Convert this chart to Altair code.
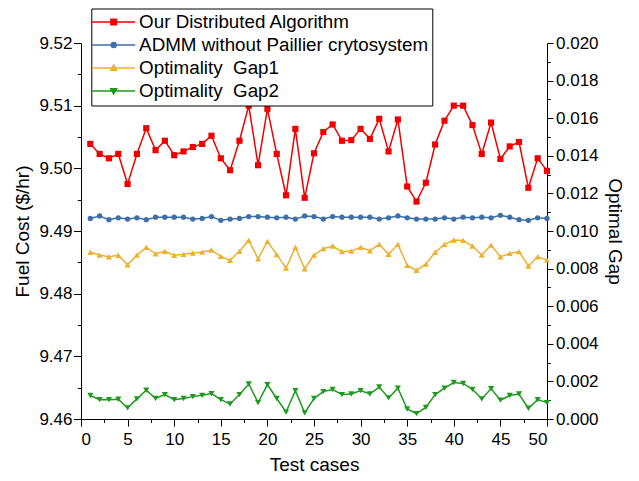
import altair as alt
import pandas as pd

cases = list(range(1, 51))

fuel_ours = [9.5039, 9.5023, 9.5016, 9.5023, 9.4975, 9.5023, 9.5064, 9.5029, 9.5044, 9.5021,
             9.5027, 9.5034, 9.5039, 9.5052, 9.5016, 9.4997, 9.5044, 9.5100, 9.5005, 9.5095,
             9.5023, 9.4957, 9.5063, 9.4953, 9.5024, 9.5058, 9.5070, 9.5044, 9.5045, 9.5063,
             9.5047, 9.5079, 9.5027, 9.5078, 9.4971, 9.4947, 9.4977, 9.5038, 9.5076, 9.5100,
             9.5100, 9.5069, 9.5023, 9.5073, 9.5015, 9.5035, 9.5042, 9.4969, 9.5016, 9.4996]

fuel_admm = [9.4920, 9.4924, 9.4918, 9.4921, 9.4919, 9.4921, 9.4918, 9.4922, 9.4922, 9.4922,
             9.4922, 9.4919, 9.4920, 9.4923, 9.4917, 9.4919, 9.4920, 9.4923, 9.4923, 9.4922,
             9.4921, 9.4922, 9.4919, 9.4924, 9.4923, 9.4919, 9.4923, 9.4922, 9.4922, 9.4922,
             9.4922, 9.4919, 9.4921, 9.4924, 9.4921, 9.4919, 9.4919, 9.4919, 9.4921, 9.4919,
             9.4922, 9.4921, 9.4922, 9.4921, 9.4925, 9.4922, 9.4918, 9.4917, 9.4921, 9.4920]

gap1 = [0.00887, 0.00872, 0.00863, 0.00871, 0.00820, 0.00872, 0.00913, 0.00879, 0.00892, 0.00871,
        0.00876, 0.00883, 0.00888, 0.00899, 0.00865, 0.00844, 0.00892, 0.00950, 0.00852, 0.00945,
        0.00874, 0.00803, 0.00913, 0.00799, 0.00872, 0.00906, 0.00920, 0.00890, 0.00893, 0.00913,
        0.00895, 0.00929, 0.00876, 0.00929, 0.00817, 0.00791, 0.00824, 0.00887, 0.00929, 0.00952,
        0.00950, 0.00920, 0.00872, 0.00925, 0.00863, 0.00881, 0.00890, 0.00814, 0.00863, 0.00845]

gap2 = [0.00125, 0.00103, 0.00103, 0.00105, 0.00059, 0.00107, 0.00153, 0.00110, 0.00130, 0.00103,
        0.00109, 0.00119, 0.00126, 0.00135, 0.00103, 0.00080, 0.00130, 0.00186, 0.00087, 0.00183,
        0.00109, 0.00037, 0.00151, 0.00033, 0.00109, 0.00146, 0.00157, 0.00130, 0.00133, 0.00151,
        0.00133, 0.00170, 0.00112, 0.00164, 0.00053, 0.00029, 0.00062, 0.00130, 0.00164, 0.00194,
        0.00189, 0.00158, 0.00107, 0.00162, 0.00100, 0.00125, 0.00133, 0.00057, 0.00103, 0.00087]

series_names = ["Our Distributed Algorithm", "ADMM without Paillier crytosystem",
                "Optimality\u00a0 Gap1", "Optimality\u00a0 Gap2"]
series_colors = ["#f00000", "#3d6fa8", "#eeb030", "#1e9a1e"]
marker_shapes = ["square", "circle", "triangle-up", "triangle-down"]
marker_sizes = [38, 28, 38, 38]
legend_paths = [
    "M-4.3,0H4.3M-0.55,-0.55H0.55V0.55H-0.55Z",
    "M-4.3,0H4.3M-0.5,0A0.5,0.5 0 1,0 0.5,0A0.5,0.5 0 1,0 -0.5,0Z",
    "M-4.3,0H4.3M0,-0.6L0.6,0.45L-0.6,0.45Z",
    "M-4.3,0H4.3M0,0.6L0.6,-0.45L-0.6,-0.45Z",
]

FONT = "Liberation Sans"

df_left = pd.DataFrame({
    "case": cases * 2,
    "value": fuel_ours + fuel_admm,
    "series": [series_names[0]] * 50 + [series_names[1]] * 50,
})
df_right = pd.DataFrame({
    "case": cases * 2,
    "value": gap1 + gap2,
    "series": [series_names[2]] * 50 + [series_names[3]] * 50,
})

color_scale = alt.Scale(domain=series_names, range=series_colors)

x_enc = alt.X(
    "case:Q",
    scale=alt.Scale(domain=[0, 50], nice=False),
    axis=alt.Axis(
        values=[i * 2.5 for i in range(21)],
        labelExpr="(round(datum.value*10) % 50 == 0) ? format(datum.value, 'd') : ''",
        tickSize=7,
        tickDash={"condition": {"test": "round(datum.value*10) % 50 != 0", "value": [3.5, 30]}, "value": []},
        labelPadding=5,
        titlePadding=8,
        grid=False,
        title="Test cases",
    ),
)

y_left = alt.Y(
    "value:Q",
    scale=alt.Scale(domain=[9.46, 9.52], nice=False, zero=False),
    axis=alt.Axis(
        orient="left",
        values=[round(9.46 + 0.005 * i, 3) for i in range(13)],
        labelExpr="(round(datum.value*1000) % 10 == 0) ? format(datum.value, '.2f') : ''",
        tickSize=7.5,
        tickDash={"condition": {"test": "round(datum.value*1000) % 10 != 0", "value": [3.7, 30]}, "value": []},
        labelPadding=1.5,
        titlePadding=6,
        grid=False,
        title="Fuel Cost ($/hr)",
    ),
)

y_right = alt.Y(
    "value:Q",
    scale=alt.Scale(domain=[0, 0.02], nice=False),
    axis=alt.Axis(
        orient="right",
        values=[round(0.001 * i, 3) for i in range(21)],
        labelExpr="(round(datum.value*10000) % 20 == 0) ? format(datum.value, '.3f') : ''",
        tickSize=6,
        tickDash={"condition": {"test": "round(datum.value*10000) % 20 != 0", "value": [3.3, 30]}, "value": []},
        labelPadding=2.5,
        titlePadding=6,
        grid=False,
        title="Optimal Gap",
    ),
)

leg = alt.Legend(
    title=None, orient="none", legendX=10.3, legendY=-34.5, direction="vertical",
    labelFont=FONT, labelFontSize=18.8, labelColor="black", labelLimit=600,
    symbolSize=100, symbolStrokeWidth=1.5, symbolOpacity=1,
    symbolOffset=9, labelOffset=16, padding=4, rowPadding=3,
    strokeColor="black", fillColor="white",
)

color_enc = alt.Color("series:N", scale=color_scale, legend=leg)


def lines_and_points(df, y_enc, idxs):
    base = alt.Chart(df)
    layers = [
        base.mark_line(strokeWidth=1.5).encode(x=x_enc, y=y_enc, color=color_enc)
    ]
    for i in idxs:
        layers.append(
            base.transform_filter(alt.datum.series == series_names[i])
            .mark_point(shape=marker_shapes[i], filled=True, size=marker_sizes[i], opacity=1)
            .encode(x=x_enc, y=y_enc, color=color_enc)
        )
    return alt.layer(*layers)


# legend-only layer: no rows survive the filter, the legend comes from the explicit domains
legend_layer = (
    alt.Chart(df_left)
    .transform_filter("false")
    .mark_point(filled=True, opacity=1)
    .encode(
        color=color_enc,
        stroke=alt.Stroke("series:N", scale=color_scale, legend=leg),
        shape=alt.Shape("series:N", scale=alt.Scale(domain=series_names, range=legend_paths), legend=leg),
    )
)

left = lines_and_points(df_left, y_left, [0, 1])
right = lines_and_points(df_right, y_right, [2, 3])

chart = (
    alt.layer(legend_layer, left, right)
    .resolve_scale(y="independent")
    .properties(
        width=466, height=376,
        padding={"left": 73, "top": 35, "right": 80, "bottom": 58},
        autosize=alt.AutoSizeParams(type="none"),
        background="white",
    )
    .configure_view(stroke=None)
    .configure_axis(
        labelFont=FONT, labelFontSize=17, labelColor="black",
        titleFont=FONT, titleFontSize=19, titleColor="black", titleFontWeight="normal",
        domainColor="black", tickColor="black", domainWidth=1, tickWidth=1,
    )
)

chart.save("out.html", embed_options={"renderer": "svg", "actions": False})
